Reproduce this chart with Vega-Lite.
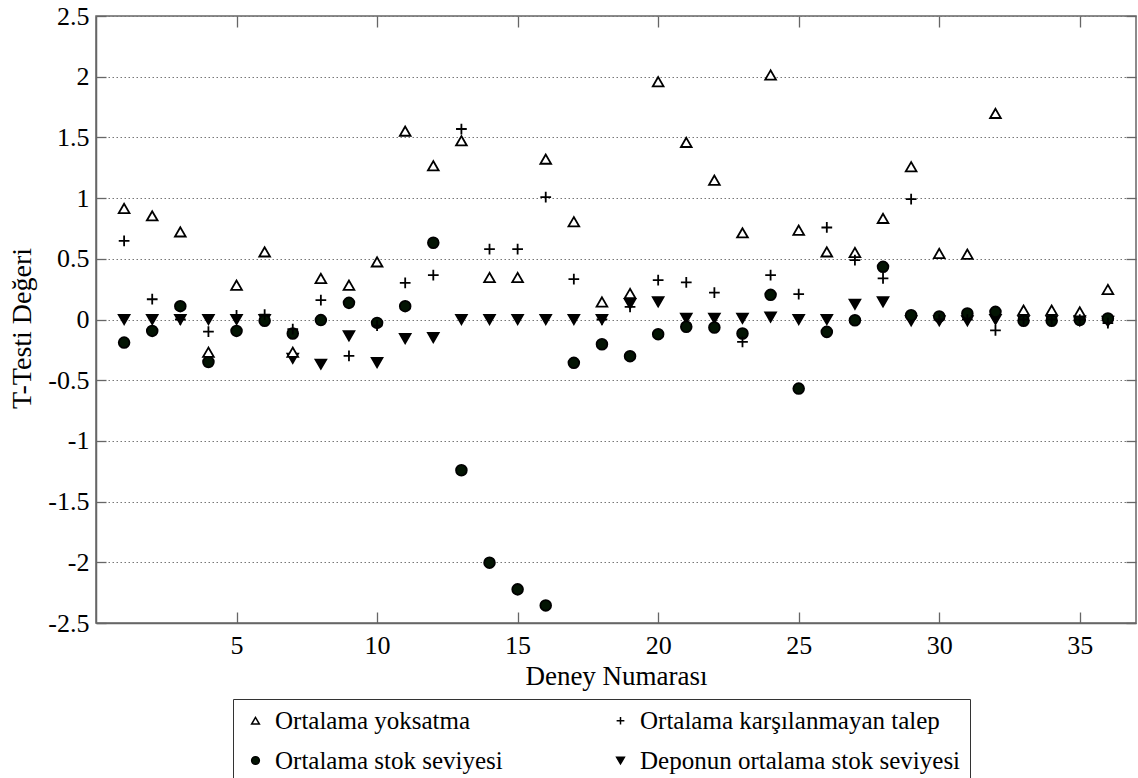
{
  "$schema": "https://vega.github.io/schema/vega-lite/v6.json",
  "width": 1040,
  "height": 607,
  "autosize": "none",
  "padding": {"left": 96, "top": 16, "right": 2, "bottom": 155},
  "background": "white",
  "config": {
    "font": "Liberation Serif",
    "view": {"stroke": "#666666", "strokeWidth": 1.5},
    "axis": {"labelColor": "black", "titleColor": "black", "titleFontWeight": "normal", "tickColor": "#666666", "tickWidth": 1.3, "domainColor": "#666666", "domainWidth": 1.5}
  },
  "data": {
    "values": [
      {"deney": 1, "seri": "Deponun ortalama stok seviyesi", "t": 0},
      {"deney": 2, "seri": "Deponun ortalama stok seviyesi", "t": 0},
      {"deney": 3, "seri": "Deponun ortalama stok seviyesi", "t": 0},
      {"deney": 4, "seri": "Deponun ortalama stok seviyesi", "t": 0},
      {"deney": 5, "seri": "Deponun ortalama stok seviyesi", "t": 0},
      {"deney": 6, "seri": "Deponun ortalama stok seviyesi", "t": 0},
      {"deney": 7, "seri": "Deponun ortalama stok seviyesi", "t": -0.32},
      {"deney": 8, "seri": "Deponun ortalama stok seviyesi", "t": -0.368},
      {"deney": 9, "seri": "Deponun ortalama stok seviyesi", "t": -0.135},
      {"deney": 10, "seri": "Deponun ortalama stok seviyesi", "t": -0.355},
      {"deney": 11, "seri": "Deponun ortalama stok seviyesi", "t": -0.157},
      {"deney": 12, "seri": "Deponun ortalama stok seviyesi", "t": -0.149},
      {"deney": 13, "seri": "Deponun ortalama stok seviyesi", "t": 0},
      {"deney": 14, "seri": "Deponun ortalama stok seviyesi", "t": 0},
      {"deney": 15, "seri": "Deponun ortalama stok seviyesi", "t": 0},
      {"deney": 16, "seri": "Deponun ortalama stok seviyesi", "t": 0},
      {"deney": 17, "seri": "Deponun ortalama stok seviyesi", "t": 0},
      {"deney": 18, "seri": "Deponun ortalama stok seviyesi", "t": 0},
      {"deney": 19, "seri": "Deponun ortalama stok seviyesi", "t": 0.13},
      {"deney": 20, "seri": "Deponun ortalama stok seviyesi", "t": 0.145},
      {"deney": 21, "seri": "Deponun ortalama stok seviyesi", "t": 0.01},
      {"deney": 22, "seri": "Deponun ortalama stok seviyesi", "t": 0.01},
      {"deney": 23, "seri": "Deponun ortalama stok seviyesi", "t": 0.01},
      {"deney": 24, "seri": "Deponun ortalama stok seviyesi", "t": 0.02},
      {"deney": 25, "seri": "Deponun ortalama stok seviyesi", "t": 0},
      {"deney": 26, "seri": "Deponun ortalama stok seviyesi", "t": 0},
      {"deney": 27, "seri": "Deponun ortalama stok seviyesi", "t": 0.126},
      {"deney": 28, "seri": "Deponun ortalama stok seviyesi", "t": 0.145},
      {"deney": 29, "seri": "Deponun ortalama stok seviyesi", "t": -0.01},
      {"deney": 30, "seri": "Deponun ortalama stok seviyesi", "t": -0.01},
      {"deney": 31, "seri": "Deponun ortalama stok seviyesi", "t": -0.01},
      {"deney": 32, "seri": "Deponun ortalama stok seviyesi", "t": 0},
      {"deney": 33, "seri": "Deponun ortalama stok seviyesi", "t": -0.01},
      {"deney": 34, "seri": "Deponun ortalama stok seviyesi", "t": -0.01},
      {"deney": 35, "seri": "Deponun ortalama stok seviyesi", "t": -0.01},
      {"deney": 36, "seri": "Deponun ortalama stok seviyesi", "t": -0.015},
      {"deney": 1, "seri": "Ortalama stok seviyesi", "t": -0.19},
      {"deney": 2, "seri": "Ortalama stok seviyesi", "t": -0.094},
      {"deney": 3, "seri": "Ortalama stok seviyesi", "t": 0.11},
      {"deney": 4, "seri": "Ortalama stok seviyesi", "t": -0.35},
      {"deney": 5, "seri": "Ortalama stok seviyesi", "t": -0.094},
      {"deney": 6, "seri": "Ortalama stok seviyesi", "t": -0.01},
      {"deney": 7, "seri": "Ortalama stok seviyesi", "t": -0.115},
      {"deney": 8, "seri": "Ortalama stok seviyesi", "t": -0.005},
      {"deney": 9, "seri": "Ortalama stok seviyesi", "t": 0.137},
      {"deney": 10, "seri": "Ortalama stok seviyesi", "t": -0.028},
      {"deney": 11, "seri": "Ortalama stok seviyesi", "t": 0.11},
      {"deney": 12, "seri": "Ortalama stok seviyesi", "t": 0.632},
      {"deney": 13, "seri": "Ortalama stok seviyesi", "t": -1.242},
      {"deney": 14, "seri": "Ortalama stok seviyesi", "t": -2.003},
      {"deney": 15, "seri": "Ortalama stok seviyesi", "t": -2.223},
      {"deney": 16, "seri": "Ortalama stok seviyesi", "t": -2.355},
      {"deney": 17, "seri": "Ortalama stok seviyesi", "t": -0.357},
      {"deney": 18, "seri": "Ortalama stok seviyesi", "t": -0.204},
      {"deney": 19, "seri": "Ortalama stok seviyesi", "t": -0.302},
      {"deney": 20, "seri": "Ortalama stok seviyesi", "t": -0.121},
      {"deney": 21, "seri": "Ortalama stok seviyesi", "t": -0.06},
      {"deney": 22, "seri": "Ortalama stok seviyesi", "t": -0.066},
      {"deney": 23, "seri": "Ortalama stok seviyesi", "t": -0.115},
      {"deney": 24, "seri": "Ortalama stok seviyesi", "t": 0.203},
      {"deney": 25, "seri": "Ortalama stok seviyesi", "t": -0.569},
      {"deney": 26, "seri": "Ortalama stok seviyesi", "t": -0.102},
      {"deney": 27, "seri": "Ortalama stok seviyesi", "t": -0.006},
      {"deney": 28, "seri": "Ortalama stok seviyesi", "t": 0.434},
      {"deney": 29, "seri": "Ortalama stok seviyesi", "t": 0.035},
      {"deney": 30, "seri": "Ortalama stok seviyesi", "t": 0.025},
      {"deney": 31, "seri": "Ortalama stok seviyesi", "t": 0.05},
      {"deney": 32, "seri": "Ortalama stok seviyesi", "t": 0.063},
      {"deney": 33, "seri": "Ortalama stok seviyesi", "t": -0.01},
      {"deney": 34, "seri": "Ortalama stok seviyesi", "t": -0.01},
      {"deney": 35, "seri": "Ortalama stok seviyesi", "t": -0.005},
      {"deney": 36, "seri": "Ortalama stok seviyesi", "t": 0.008},
      {"deney": 1, "seri": "Ortalama yoksatma", "t": 0.915},
      {"deney": 2, "seri": "Ortalama yoksatma", "t": 0.854},
      {"deney": 3, "seri": "Ortalama yoksatma", "t": 0.722},
      {"deney": 4, "seri": "Ortalama yoksatma", "t": -0.27},
      {"deney": 5, "seri": "Ortalama yoksatma", "t": 0.283},
      {"deney": 6, "seri": "Ortalama yoksatma", "t": 0.557},
      {"deney": 7, "seri": "Ortalama yoksatma", "t": -0.27},
      {"deney": 8, "seri": "Ortalama yoksatma", "t": 0.338},
      {"deney": 9, "seri": "Ortalama yoksatma", "t": 0.283},
      {"deney": 10, "seri": "Ortalama yoksatma", "t": 0.475},
      {"deney": 11, "seri": "Ortalama yoksatma", "t": 1.552},
      {"deney": 12, "seri": "Ortalama yoksatma", "t": 1.266},
      {"deney": 13, "seri": "Ortalama yoksatma", "t": 1.472},
      {"deney": 14, "seri": "Ortalama yoksatma", "t": 0.346},
      {"deney": 15, "seri": "Ortalama yoksatma", "t": 0.346},
      {"deney": 16, "seri": "Ortalama yoksatma", "t": 1.321},
      {"deney": 17, "seri": "Ortalama yoksatma", "t": 0.805},
      {"deney": 18, "seri": "Ortalama yoksatma", "t": 0.145},
      {"deney": 19, "seri": "Ortalama yoksatma", "t": 0.214},
      {"deney": 20, "seri": "Ortalama yoksatma", "t": 1.959},
      {"deney": 21, "seri": "Ortalama yoksatma", "t": 1.459},
      {"deney": 22, "seri": "Ortalama yoksatma", "t": 1.148},
      {"deney": 23, "seri": "Ortalama yoksatma", "t": 0.714},
      {"deney": 24, "seri": "Ortalama yoksatma", "t": 2.014},
      {"deney": 25, "seri": "Ortalama yoksatma", "t": 0.736},
      {"deney": 26, "seri": "Ortalama yoksatma", "t": 0.557},
      {"deney": 27, "seri": "Ortalama yoksatma", "t": 0.552},
      {"deney": 28, "seri": "Ortalama yoksatma", "t": 0.833},
      {"deney": 29, "seri": "Ortalama yoksatma", "t": 1.258},
      {"deney": 30, "seri": "Ortalama yoksatma", "t": 0.544},
      {"deney": 31, "seri": "Ortalama yoksatma", "t": 0.538},
      {"deney": 32, "seri": "Ortalama yoksatma", "t": 1.698},
      {"deney": 33, "seri": "Ortalama yoksatma", "t": 0.077},
      {"deney": 34, "seri": "Ortalama yoksatma", "t": 0.077},
      {"deney": 35, "seri": "Ortalama yoksatma", "t": 0.063},
      {"deney": 36, "seri": "Ortalama yoksatma", "t": 0.247},
      {"deney": 1, "seri": "Ortalama karşılanmayan talep", "t": 0.648},
      {"deney": 2, "seri": "Ortalama karşılanmayan talep", "t": 0.167},
      {"deney": 3, "seri": "Ortalama karşılanmayan talep", "t": 0.0},
      {"deney": 4, "seri": "Ortalama karşılanmayan talep", "t": -0.1},
      {"deney": 5, "seri": "Ortalama karşılanmayan talep", "t": 0.035},
      {"deney": 6, "seri": "Ortalama karşılanmayan talep", "t": 0.04},
      {"deney": 7, "seri": "Ortalama karşılanmayan talep", "t": -0.08},
      {"deney": 8, "seri": "Ortalama karşılanmayan talep", "t": 0.159},
      {"deney": 9, "seri": "Ortalama karşılanmayan talep", "t": -0.3},
      {"deney": 10, "seri": "Ortalama karşılanmayan talep", "t": -0.05},
      {"deney": 11, "seri": "Ortalama karşılanmayan talep", "t": 0.302},
      {"deney": 12, "seri": "Ortalama karşılanmayan talep", "t": 0.365},
      {"deney": 13, "seri": "Ortalama karşılanmayan talep", "t": 1.569},
      {"deney": 14, "seri": "Ortalama karşılanmayan talep", "t": 0.58},
      {"deney": 15, "seri": "Ortalama karşılanmayan talep", "t": 0.58},
      {"deney": 16, "seri": "Ortalama karşılanmayan talep", "t": 1.008},
      {"deney": 17, "seri": "Ortalama karşılanmayan talep", "t": 0.332},
      {"deney": 18, "seri": "Ortalama karşılanmayan talep", "t": 0.0},
      {"deney": 19, "seri": "Ortalama karşılanmayan talep", "t": 0.104},
      {"deney": 20, "seri": "Ortalama karşılanmayan talep", "t": 0.324},
      {"deney": 21, "seri": "Ortalama karşılanmayan talep", "t": 0.305},
      {"deney": 22, "seri": "Ortalama karşılanmayan talep", "t": 0.222},
      {"deney": 23, "seri": "Ortalama karşılanmayan talep", "t": -0.184},
      {"deney": 24, "seri": "Ortalama karşılanmayan talep", "t": 0.365},
      {"deney": 25, "seri": "Ortalama karşılanmayan talep", "t": 0.209},
      {"deney": 26, "seri": "Ortalama karşılanmayan talep", "t": 0.758},
      {"deney": 27, "seri": "Ortalama karşılanmayan talep", "t": 0.489},
      {"deney": 28, "seri": "Ortalama karşılanmayan talep", "t": 0.338},
      {"deney": 29, "seri": "Ortalama karşılanmayan talep", "t": 0.992},
      {"deney": 30, "seri": "Ortalama karşılanmayan talep", "t": 0.0},
      {"deney": 31, "seri": "Ortalama karşılanmayan talep", "t": 0.0},
      {"deney": 32, "seri": "Ortalama karşılanmayan talep", "t": -0.09},
      {"deney": 33, "seri": "Ortalama karşılanmayan talep", "t": 0.0},
      {"deney": 34, "seri": "Ortalama karşılanmayan talep", "t": 0.0},
      {"deney": 35, "seri": "Ortalama karşılanmayan talep", "t": 0.0},
      {"deney": 36, "seri": "Ortalama karşılanmayan talep", "t": -0.03}
    ]
  },
  "layer": [
    {
      "mark": {"type": "point", "filled": true, "stroke": "black", "strokeWidth": 1.8, "opacity": 1, "size": 115},
      "encoding": {
        "x": {
          "field": "deney", "type": "quantitative",
          "scale": {"domain": [0, 37], "nice": false, "zero": false},
          "axis": {"orient": "bottom", "values": [5, 10, 15, 20, 25, 30, 35], "grid": false, "tickSize": -11, "labelPadding": 20, "labelFont": "Liberation Serif", "labelFontSize": 26, "labelFlush": false, "title": "Deney Numarası", "titleFontSize": 27, "titleBaseline": "alphabetic", "titleY": 61}
        },
        "y": {
          "field": "t", "type": "quantitative",
          "scale": {"domain": [-2.5, 2.5], "nice": false, "zero": false},
          "axis": {"orient": "left", "values": [-2.5, -2, -1.5, -1, -0.5, 0, 0.5, 1, 1.5, 2, 2.5], "labelExpr": "datum.value < 0 ? '-' + format(-datum.value, '~g') : format(datum.value, '~g')", "grid": true, "gridColor": "#777777", "gridDash": [1.5, 2.5], "gridWidth": 1, "tickSize": -10, "labelPadding": 17, "labelFont": "Liberation Serif", "labelFontSize": 26, "labelFlush": false, "title": "T-Testi Değeri", "titleFontSize": 28, "titleAngle": -90, "titleBaseline": "alphabetic", "titleAlign": "center", "titleX": -66, "titleY": 312}
        },
        "shape": {
          "field": "seri", "type": "nominal",
          "scale": {"domain": ["Ortalama yoksatma", "Ortalama stok seviyesi", "Ortalama karşılanmayan talep", "Deponun ortalama stok seviyesi"], "range": ["triangle-up", "circle", "M-1,0H1M0,-1V1", "triangle-down"]},
          "legend": {"title": null, "orient": "none", "legendX": 137, "legendY": 683, "columns": 2, "columnPadding": 104, "rowPadding": 14, "padding": 9, "strokeColor": "#333333", "fillColor": "white", "symbolSize": 60, "symbolOffset": 1, "symbolStrokeWidth": 1.5, "labelFont": "Liberation Serif", "labelFontSize": 25, "labelColor": "black", "labelOffset": 7, "labelLimit": 500}
        },
        "fill": {
          "field": "seri", "type": "nominal",
          "scale": {"domain": ["Ortalama yoksatma", "Ortalama stok seviyesi", "Ortalama karşılanmayan talep", "Deponun ortalama stok seviyesi"], "range": ["white", "#031403", "transparent", "black"]},
          "legend": null
        }
      }
    },
    {
      "mark": {"type": "point", "opacity": 0},
      "encoding": {
        "x": {
          "field": "deney", "type": "quantitative",
          "axis": {"orient": "top", "values": [5, 10, 15, 20, 25, 30, 35], "grid": false, "labels": false, "domain": false, "tickSize": -11, "title": null}
        },
        "y": {
          "field": "t", "type": "quantitative",
          "axis": {"orient": "right", "values": [-2.5, -2, -1.5, -1, -0.5, 0, 0.5, 1, 1.5, 2, 2.5], "grid": false, "labels": false, "domain": false, "tickSize": -10, "title": null}
        }
      }
    }
  ],
  "resolve": {"axis": {"x": "independent", "y": "independent"}}
}
